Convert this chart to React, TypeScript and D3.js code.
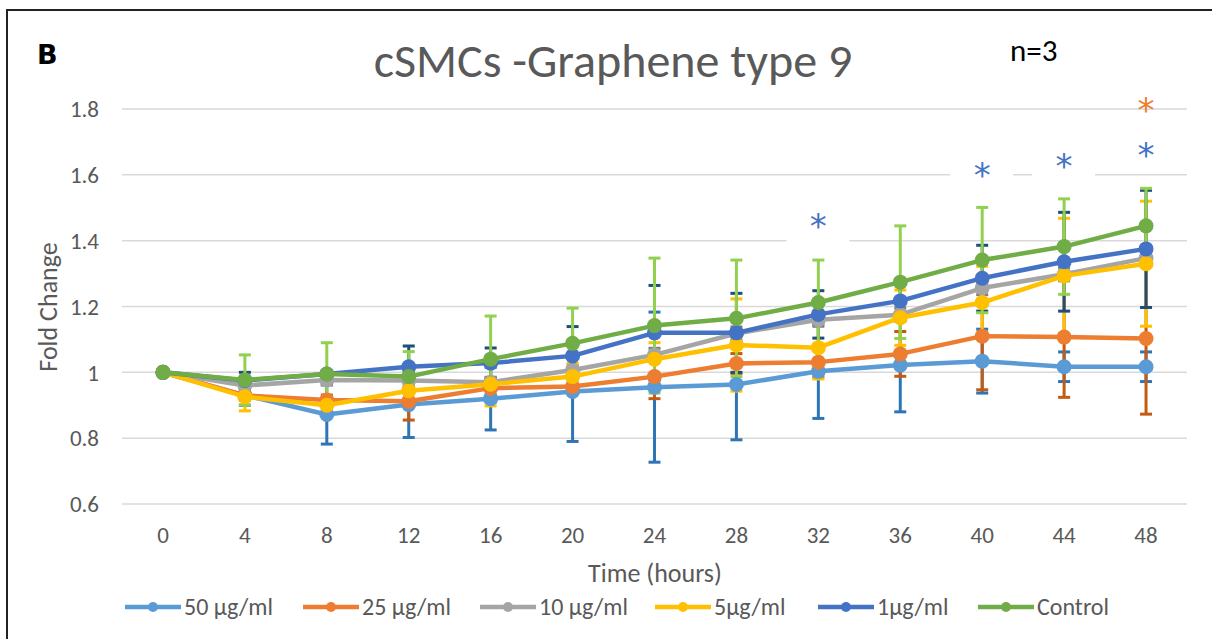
import React from 'react';
import * as d3 from 'd3';

// Time points (hours) and the y tick labels
const hours = [0, 4, 8, 12, 16, 20, 24, 28, 32, 36, 40, 44, 48];
const yTicks = [0.6, 0.8, 1.0, 1.2, 1.4, 1.6, 1.8];

// Mean fold change per concentration
const s50 = [1, 0.93, 0.872, 0.902, 0.92, 0.942, 0.955, 0.963, 1.003, 1.022, 1.034, 1.017, 1.017];
const s25 = [1, 0.93, 0.916, 0.912, 0.952, 0.957, 0.987, 1.027, 1.031, 1.056, 1.11, 1.107, 1.103];
const s10 = [1, 0.96, 0.977, 0.975, 0.97, 1.007, 1.053, 1.118, 1.16, 1.175, 1.256, 1.298, 1.347];
const s5 = [1, 0.926, 0.9, 0.944, 0.964, 0.987, 1.04, 1.083, 1.075, 1.166, 1.212, 1.293, 1.33];
const s1 = [1, 0.975, 0.995, 1.017, 1.028, 1.05, 1.12, 1.12, 1.176, 1.217, 1.286, 1.336, 1.375];
const sCtrl = [1, 0.977, 0.995, 0.987, 1.04, 1.088, 1.142, 1.164, 1.212, 1.274, 1.341, 1.382, 1.445];

// Error (+/-) per concentration
const e50 = [0, 0.03, 0.09, 0.1, 0.095, 0.152, 0.228, 0.168, 0.143, 0.142, 0.097, 0.045, 0.045];
const e25 = [0, 0.015, 0.015, 0.057, 0.02, 0.02, 0.067, 0.03, 0.045, 0.068, 0.163, 0.183, 0.23];
const e10 = [0, 0.015, 0.015, 0.015, 0.015, 0.015, 0.02, 0.02, 0.02, 0.02, 0.02, 0.02, 0.02];
const e5 = [0, 0.043, 0.02, 0.03, 0.066, 0.04, 0.05, 0.14, 0.095, 0.084, 0.11, 0.175, 0.19];
const e1 = [0, 0.025, 0.01, 0.063, 0.046, 0.089, 0.144, 0.12, 0.072, 0.06, 0.1, 0.15, 0.178];
const eCtrl = [0, 0.076, 0.095, 0.076, 0.131, 0.107, 0.205, 0.177, 0.129, 0.171, 0.16, 0.145, 0.114];

const seriesNames = ['50 µg/ml', '25 µg/ml', '10 µg/ml', '5µg/ml', '1µg/ml', 'Control'];
const seriesValues = [s50, s25, s10, s5, s1, sCtrl];
const seriesErrors = [e50, e25, e10, e5, e1, eCtrl];
const lineColors = ['#5B9BD5', '#ED7D31', '#A5A5A5', '#FFC000', '#4472C4', '#70AD47'];
const errColors = ['#2E75B6', '#C55A11', '#7F7F7F', '#FFC000', '#1F4E79', '#92D050'];

// significance stars: hour, level (fold change at star centre), colour
const starHours = [32, 40, 44, 48, 48];
const starLevels = [1.461, 1.618, 1.643, 1.679, 1.815];
const starColors = ['#4472C4', '#4472C4', '#4472C4', '#4472C4', '#ED7D31'];
const starBoxed = [true, true, true, false, false];

const W = 1212;
const H = 639;
const FONT = 'Calibri, Carlito, Lato, sans-serif';
const legendX = [125, 303, 480, 655, 818, 978];

export default function App() {
  const x = d3.scaleBand<number>().domain(hours).range([122, 1187]);
  const y = d3.scaleLinear().domain([0.6, 1.8]).range([504, 109]);
  const cx = (h: number) => (x(h) as number) + x.bandwidth() / 2;
  const line = d3.line<number>().x((_, i) => cx(hours[i])).y(d => y(d));
  const capW = 6;
  const starSize = 34;

  return (
    <div style={{ position: 'absolute', left: 0, top: 0 }}>
      <svg width={W} height={H} style={{ display: 'block', background: '#fff' }} fontFamily={FONT}>
        <path d={`M7,${H} V10 H${W}`} fill="none" stroke="#222" strokeWidth={2} />

        <text x={37} y={64} fontSize={27} fontFamily="'DejaVu Sans', sans-serif" fontWeight="bold" fill="#000">B</text>
        <text x={613} y={77} fontSize={48} textAnchor="middle" fill="#595959">cSMCs -Graphene type 9</text>
        <text x={1010} y={61} fontSize={31} fill="#000">n=3</text>

        {/* gridlines */}
        <g>
          {yTicks.map(t => (
            <line key={t} x1={122} x2={1187} y1={y(t)} y2={y(t)} stroke="#D9D9D9" strokeWidth={1.5} />
          ))}
        </g>

        {/* y ticks */}
        <g fontSize={23} fill="#595959" textAnchor="end">
          {yTicks.map(t => (
            <text key={t} x={99} y={y(t)} dy="0.36em">{d3.format('~g')(t)}</text>
          ))}
        </g>

        {/* x ticks */}
        <g fontSize={23} fill="#595959" textAnchor="middle">
          {hours.map(h => (
            <text key={h} x={cx(h)} y={543}>{h}</text>
          ))}
        </g>

        <text x={655} y={582} fontSize={26} fill="#595959" textAnchor="middle">Time (hours)</text>
        <text transform="translate(57,307) rotate(-90)" fontSize={26} fill="#595959" textAnchor="middle">Fold Change</text>

        {/* white boxes behind stars (they cut the gridlines) */}
        {starHours.map((h, i) =>
          starBoxed[i] ? (
            <rect key={i} x={cx(h) - 32} y={y(starLevels[i]) - 22} width={63} height={44} fill="#fff" />
          ) : null
        )}

        {/* error bars, all series first */}
        {seriesValues.map((vals, si) => (
          <g key={si} stroke={errColors[si]} strokeWidth={3}>
            {vals.map((v, i) => {
              const e = seriesErrors[si][i];
              if (!e) return null;
              const px = cx(hours[i]);
              const yt = y(v + e);
              const yb = y(v - e);
              return (
                <g key={i}>
                  <line x1={px} x2={px} y1={yt} y2={yb} />
                  <line x1={px - capW} x2={px + capW} y1={yt} y2={yt} />
                  <line x1={px - capW} x2={px + capW} y1={yb} y2={yb} />
                </g>
              );
            })}
          </g>
        ))}

        {/* lines + markers */}
        {seriesValues.map((vals, si) => (
          <g key={si}>
            <path d={line(vals) || ''} fill="none" stroke={lineColors[si]} strokeWidth={4.5} strokeLinejoin="round" />
            {vals.map((v, i) => (
              <circle key={i} cx={cx(hours[i])} cy={y(v)} r={7.5} fill={lineColors[si]} />
            ))}
          </g>
        ))}

        {/* stars */}
        <g fontSize={starSize} fontFamily="'DejaVu Sans', sans-serif" textAnchor="middle">
          {starHours.map((h, i) => (
            <text key={i} x={cx(h)} y={y(starLevels[i]) + starSize * 0.52} fill={starColors[i]}>*</text>
          ))}
        </g>

        {/* legend */}
        <g fontSize={24} fill="#595959">
          {seriesNames.map((n, i) => (
            <g key={n} transform={`translate(${legendX[i]},607)`}>
              <line x1={0} x2={56} y1={0} y2={0} stroke={lineColors[i]} strokeWidth={4.5} />
              <circle cx={28} cy={0} r={5} fill={lineColors[i]} />
              <text x={59} y={8}>{n}</text>
            </g>
          ))}
        </g>
      </svg>
    </div>
  );
}
